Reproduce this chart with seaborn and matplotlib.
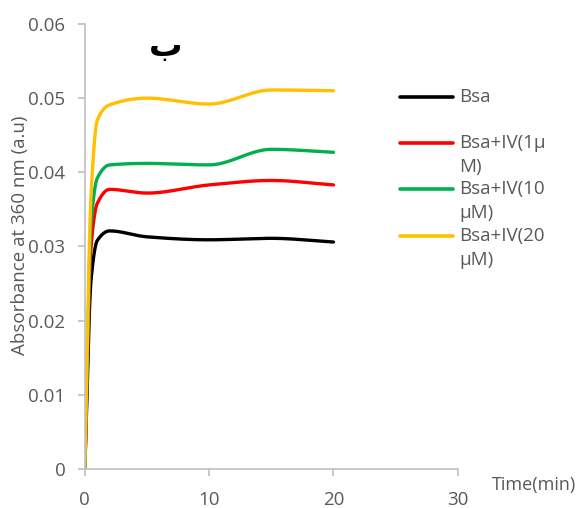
import numpy as np
import pandas as pd
import matplotlib
matplotlib.use('Agg')
import matplotlib.pyplot as plt
import seaborn as sns
from matplotlib.lines import Line2D

# data
time_min = [0, 0.5, 1, 2, 5, 10, 15, 20]
bsa = [0, 0.0255, 0.0308, 0.0321, 0.0313, 0.0309, 0.0311, 0.0306]
bsa_iv1 = [0, 0.0300, 0.0358, 0.0377, 0.0372, 0.0383, 0.0389, 0.0383]
bsa_iv10 = [0, 0.0330, 0.0392, 0.0410, 0.0412, 0.0410, 0.0431, 0.0427]
bsa_iv20 = [0, 0.0370, 0.0470, 0.0491, 0.0500, 0.0492, 0.0511, 0.0510]

series_names = ['Bsa', 'Bsa+IV(1μ\nM)', 'Bsa+IV(10\nμM)', 'Bsa+IV(20\nμM)']
series_vals = [bsa, bsa_iv1, bsa_iv10, bsa_iv20]
colors = ['#000000', '#FF0000', '#00B050', '#FFC000']


def smooth(x, y, n=40):
    # monotone cubic (pchip) so the smoothed line does not overshoot
    x = np.asarray(x, float)
    y = np.asarray(y, float)
    h = np.diff(x)
    d = np.diff(y) / h
    m = np.zeros_like(y)
    for k in range(1, len(x) - 1):
        if d[k - 1] * d[k] > 0:
            w1 = 2 * h[k] + h[k - 1]
            w2 = h[k] + 2 * h[k - 1]
            m[k] = (w1 + w2) / (w1 / d[k - 1] + w2 / d[k])
    m[0] = d[0]
    m[-1] = d[-1]
    xs, ys = [], []
    for k in range(len(x) - 1):
        t = np.linspace(0, 1, n)
        h00 = 2 * t ** 3 - 3 * t ** 2 + 1
        h10 = t ** 3 - 2 * t ** 2 + t
        h01 = -2 * t ** 3 + 3 * t ** 2
        h11 = t ** 3 - t ** 2
        yy = h00 * y[k] + h10 * h[k] * m[k] + h01 * y[k + 1] + h11 * h[k] * m[k + 1]
        xx = x[k] + t * h[k]
        if k > 0:
            xx, yy = xx[1:], yy[1:]
        xs.append(xx)
        ys.append(yy)
    return np.concatenate(xs), np.concatenate(ys)


rows = []
for name, vals in zip(series_names, series_vals):
    sx, sy = smooth(time_min, vals)
    for a, b in zip(sx, sy):
        rows.append((name, a, b))
df = pd.DataFrame(rows, columns=['series', 'time', 'abs'])

sns.set_style('white')
plt.rcParams['font.family'] = ['Open Sans', 'DejaVu Sans']

fig = plt.figure(figsize=(5.81, 5.08), dpi=100)
ax = fig.add_axes([0.146, 0.0768, 0.642, 0.876])

sns.lineplot(data=df, x='time', y='abs', hue='series', palette=colors,
             sort=False, estimator=None, linewidth=2.4, legend=False, ax=ax)

ax.set_xlim(0, 30)
ax.set_ylim(0, 0.06)
ax.set_xticks([0, 10, 20, 30])
ax.set_yticks([0, 0.01, 0.02, 0.03, 0.04, 0.05, 0.06])
ax.set_yticklabels(['0', '0.01', '0.02', '0.03', '0.04', '0.05', '0.06'])
ax.set_xlabel('')
ax.set_ylabel('')
for s in ['top', 'right']:
    ax.spines[s].set_visible(False)
for s in ['left', 'bottom']:
    ax.spines[s].set_color('#bfbfbf')
    ax.spines[s].set_linewidth(1.2)
ax.tick_params(axis='both', colors='#bfbfbf', labelcolor='#595959',
               length=5, width=1.2, labelsize=13.5, direction='out')
ax.tick_params(axis='y', pad=9)
ax.tick_params(axis='x', pad=11)
ax.tick_params(left=True, bottom=True)

# title (arabic letter)
fig.text(166 / 581, 1 - 46 / 508, 'ب', family='DejaVu Sans', fontsize=24,
         fontweight='bold', ha='center', va='center', color='black')

# axis labels
fig.text(20 / 581, 1 - 235 / 508, 'Absorbance at 360 nm (a.u)', rotation=90,
         fontsize=13.5, color='#595959', ha='center', va='center')
fig.text(534 / 581, 1 - 485 / 508, 'Time(min)', fontsize=13,
         color='#595959', ha='center', va='center')

# legend drawn by hand to keep excel layout
leg_y = [97, 143, 189, 236]
for name, c, yy in zip(series_names, colors, leg_y):
    fy = 1 - yy / 508
    fig.add_artist(Line2D([400 / 581, 453 / 581], [fy, fy], color=c,
                          linewidth=2.6, transform=fig.transFigure))
    for j, part in enumerate(name.split('\n')):
        fig.text(459 / 581, 1 - (yy + 24 * j) / 508, part, fontsize=13.5,
                 color='#595959', ha='left', va='center')

fig.savefig('out.png', dpi=100)
